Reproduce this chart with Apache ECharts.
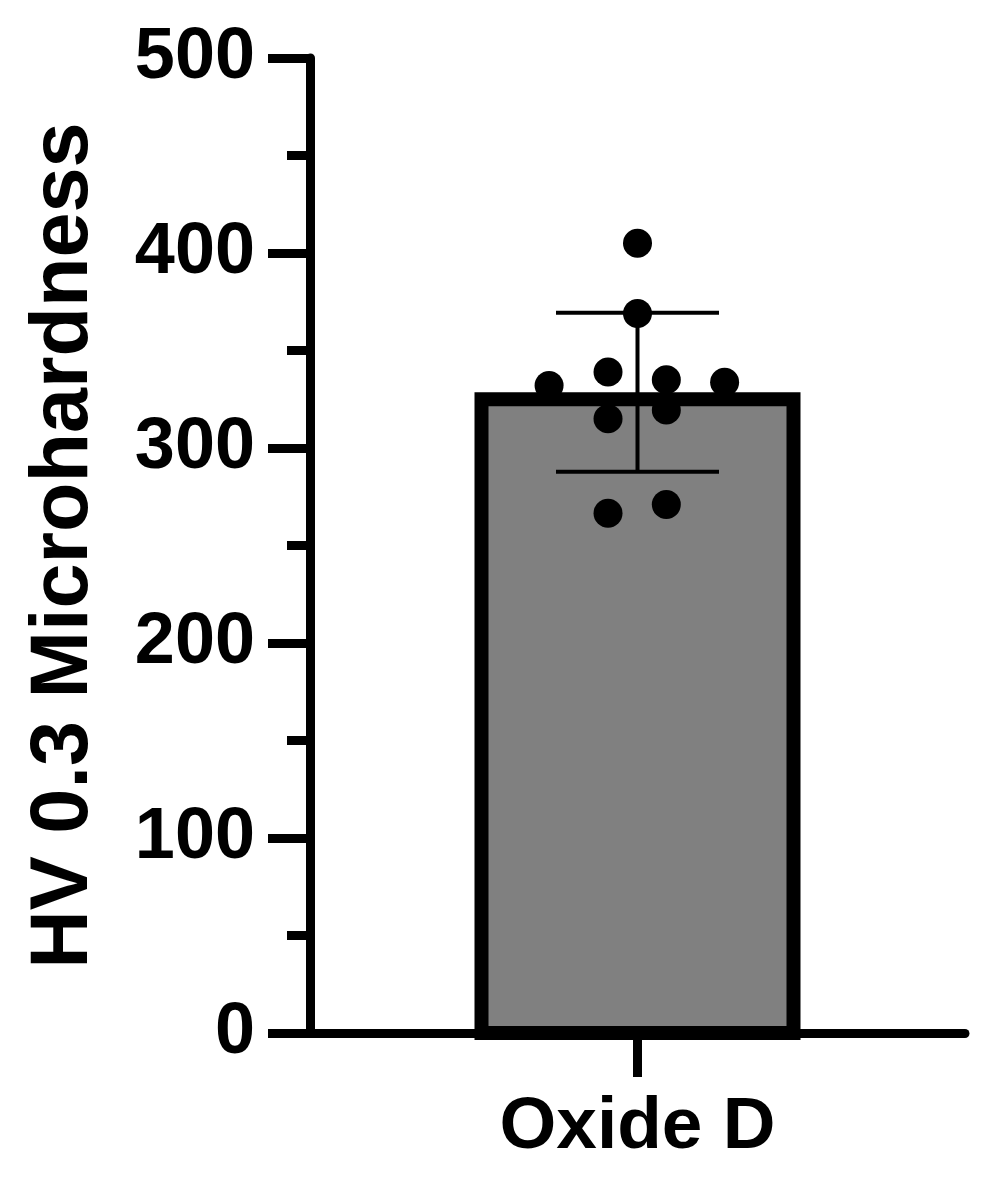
<!DOCTYPE html>
<html>
<head>
<meta charset="utf-8">
<script src="https://cdn.jsdelivr.net/npm/echarts@6/dist/echarts.min.js"></script>
<style>html,body{margin:0;padding:0;background:#fff;}#c{width:989px;height:1180px;}</style>
</head>
<body>
<div id="c"></div>
<script>
// ---- data ----
const categories = ['Oxide D'];
const hardness = [405, 369, 332, 339, 335, 333.7, 315, 319.5, 266.5, 271];
const jitter   = [0, 0, -0.135, -0.045, 0.044, 0.133, -0.045, 0.044, -0.045, 0.044];
const meanValues = [328.6];
const sdLow = [287.8];
const sdHigh = [369.3];
const yTicks = [0, 100, 200, 300, 400, 500];

const FONT = '"Liberation Sans", Arial, Helvetica, sans-serif';
const BAR_W = 326, BORDER = 14, CAP_W = 163;

const chart = echarts.init(document.getElementById('c'), null, {renderer: 'canvas'});
const scatterData = hardness.map((v, i) => [jitter[i], v]);

chart.setOption({
  animation: false,
  backgroundColor: '#fff',
  grid: {left: 310, right: 24, top: 58, bottom: 147, containLabel: false},
  xAxis: [{
    type: 'category',
    data: categories,
    axisLine: {onZero: false, lineStyle: {color: '#000', width: 9}},
    axisTick: {show: true, interval: 0, length: 44, lineStyle: {color: '#000', width: 9}, alignWithLabel: true},
    axisLabel: {color: '#000', fontSize: 73, fontWeight: 'bold', fontFamily: FONT, margin: 58},
    splitLine: {show: false}
  }, {
    type: 'value', min: -0.5, max: 0.5, show: false
  }],
  yAxis: {
    type: 'value', min: yTicks[0], max: yTicks[yTicks.length - 1], interval: 100,
    name: 'HV 0.3 Microhardness', nameLocation: 'middle', nameGap: 205,
    nameTextStyle: {color: '#000', fontSize: 81, fontWeight: 'bold', fontFamily: FONT},
    axisLine: {show: true, onZero: false, lineStyle: {color: '#000', width: 9}},
    axisTick: {show: true, length: 42, lineStyle: {color: '#000', width: 9}},
    minorTick: {show: true, splitNumber: 2, length: 23, lineStyle: {color: '#000', width: 9}},
    axisLabel: {color: '#000', fontSize: 72, fontWeight: 'bold', fontFamily: FONT, margin: 55},
    splitLine: {show: false}
  },
  series: [{
    type: 'custom',
    xAxisIndex: 0,
    data: meanValues.map((m, i) => [i, m]),
    renderItem: function (params, api) {
      const top = api.coord([api.value(0), api.value(1)]);
      const base = api.coord([api.value(0), 0]);
      const x0 = top[0] - BAR_W / 2 + BORDER / 2;
      const y0 = top[1] + BORDER / 2;
      return {
        type: 'rect',
        shape: {x: x0, y: y0, width: BAR_W - BORDER, height: base[1] - y0},
        style: {fill: '#808080', stroke: '#000', lineWidth: BORDER}
      };
    },
    z: 2
  }, {
    type: 'scatter',
    xAxisIndex: 1,
    data: scatterData,
    symbol: 'circle',
    symbolSize: 29,
    itemStyle: {color: '#000', opacity: 1},
    z: 3
  }, {
    type: 'custom',
    xAxisIndex: 0,
    data: meanValues.map((m, i) => [i, sdLow[i], sdHigh[i]]),
    renderItem: function (params, api) {
      const lo = api.coord([api.value(0), api.value(1)]);
      const hi = api.coord([api.value(0), api.value(2)]);
      const st = {stroke: '#000', lineWidth: 4};
      return {
        type: 'group',
        children: [
          {type: 'line', shape: {x1: lo[0], y1: lo[1], x2: hi[0], y2: hi[1]}, style: st},
          {type: 'line', shape: {x1: hi[0] - CAP_W / 2, y1: hi[1], x2: hi[0] + CAP_W / 2, y2: hi[1]}, style: st},
          {type: 'line', shape: {x1: lo[0] - CAP_W / 2, y1: lo[1], x2: lo[0] + CAP_W / 2, y2: lo[1]}, style: st}
        ]
      };
    },
    z: 4
  }]
});
</script>
</body>
</html>
